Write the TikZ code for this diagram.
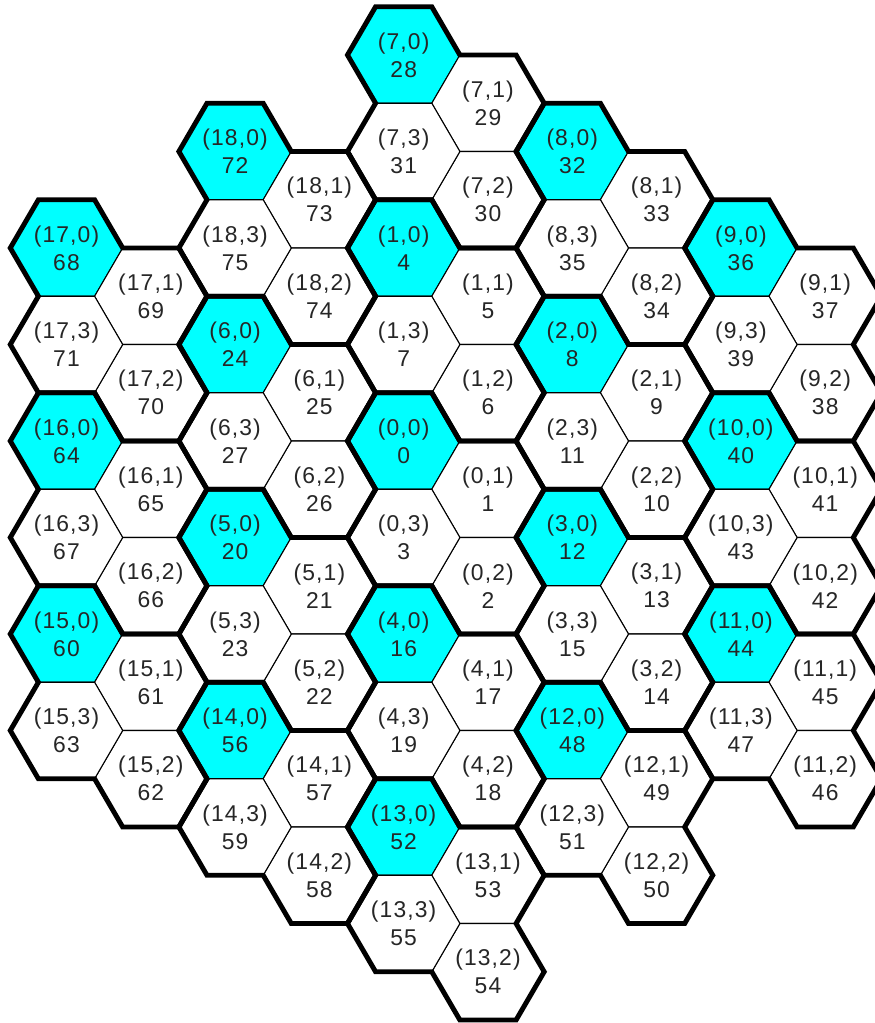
\documentclass[tikz,border=0pt]{standalone}
\usepackage{fontspec}
\newfontfamily\cellfont[LetterSpace=5]{Liberation Sans}
\definecolor{cellcyan}{RGB}{0,255,255}
\tikzset{
  cellhex/.style={draw=black, line width=0.6pt, fill=#1},
  clusterline/.style={draw=black, line width=2.8pt, line join=miter},
  celltext/.style={align=center, inner sep=0pt, text=black!85,
    font=\cellfont\fontsize{13}{15.9}\selectfont},
}

\begin{document}
\begin{tikzpicture}[x=1.124cm, y=-0.965cm]

\useasboundingbox (-7.183,-9.140) rectangle (8.386,12.062);
\clip (-7.183,-9.140) rectangle (8.386,12.062);

\foreach \k/\col/\row in {0/0/0, 1/0/-4, 2/2/-2, 3/2/2, 4/0/4, 5/-2/2, 6/-2/-2,
    7/0/-8, 8/2/-6, 9/4/-4, 10/4/0, 11/4/4, 12/2/6, 13/0/8, 14/-2/6,
    15/-4/4, 16/-4/0, 17/-4/-4, 18/-2/-6} {
  \foreach \j/\dx/\dh/\fc in {0/0/0/cellcyan, 1/1.5/1/white, 2/1.5/3/white, 3/0/2/white} {
    \pgfmathtruncatemacro\num{4*\k+\j}
    \draw[cellhex=\fc] (1.5*\col+\dx,\row+\dh) ++(-1,0) -- ++(0.5,-1) -- ++(1,0)
      -- ++(0.5,1) -- ++(-0.5,1) -- ++(-1,0) -- cycle;
    \node[celltext] (hex-\k-\j) at (1.5*\col+\dx,\row+\dh) {(\k,\j)\\\num};
  }
}

\foreach \col/\row in {0/0, 0/-4, 2/-2, 2/2, 0/4, -2/2, -2/-2, 0/-8, 2/-6, 4/-4,
    4/0, 4/4, 2/6, 0/8, -2/6, -4/4, -4/0, -4/-4, -2/-6} {
  \draw[clusterline] (1.5*\col,\row) ++(-1,0) -- ++(0.5,-1) -- ++(1,0) -- ++(0.5,1)
    -- ++(1,0) -- ++(0.5,1) -- ++(-0.5,1) -- ++(0.5,1) -- ++(-0.5,1) -- ++(-1,0)
    -- ++(-0.5,-1) -- ++(-1,0) -- ++(-0.5,-1) -- ++(0.5,-1) -- cycle;
}

\end{tikzpicture}
\end{document}
